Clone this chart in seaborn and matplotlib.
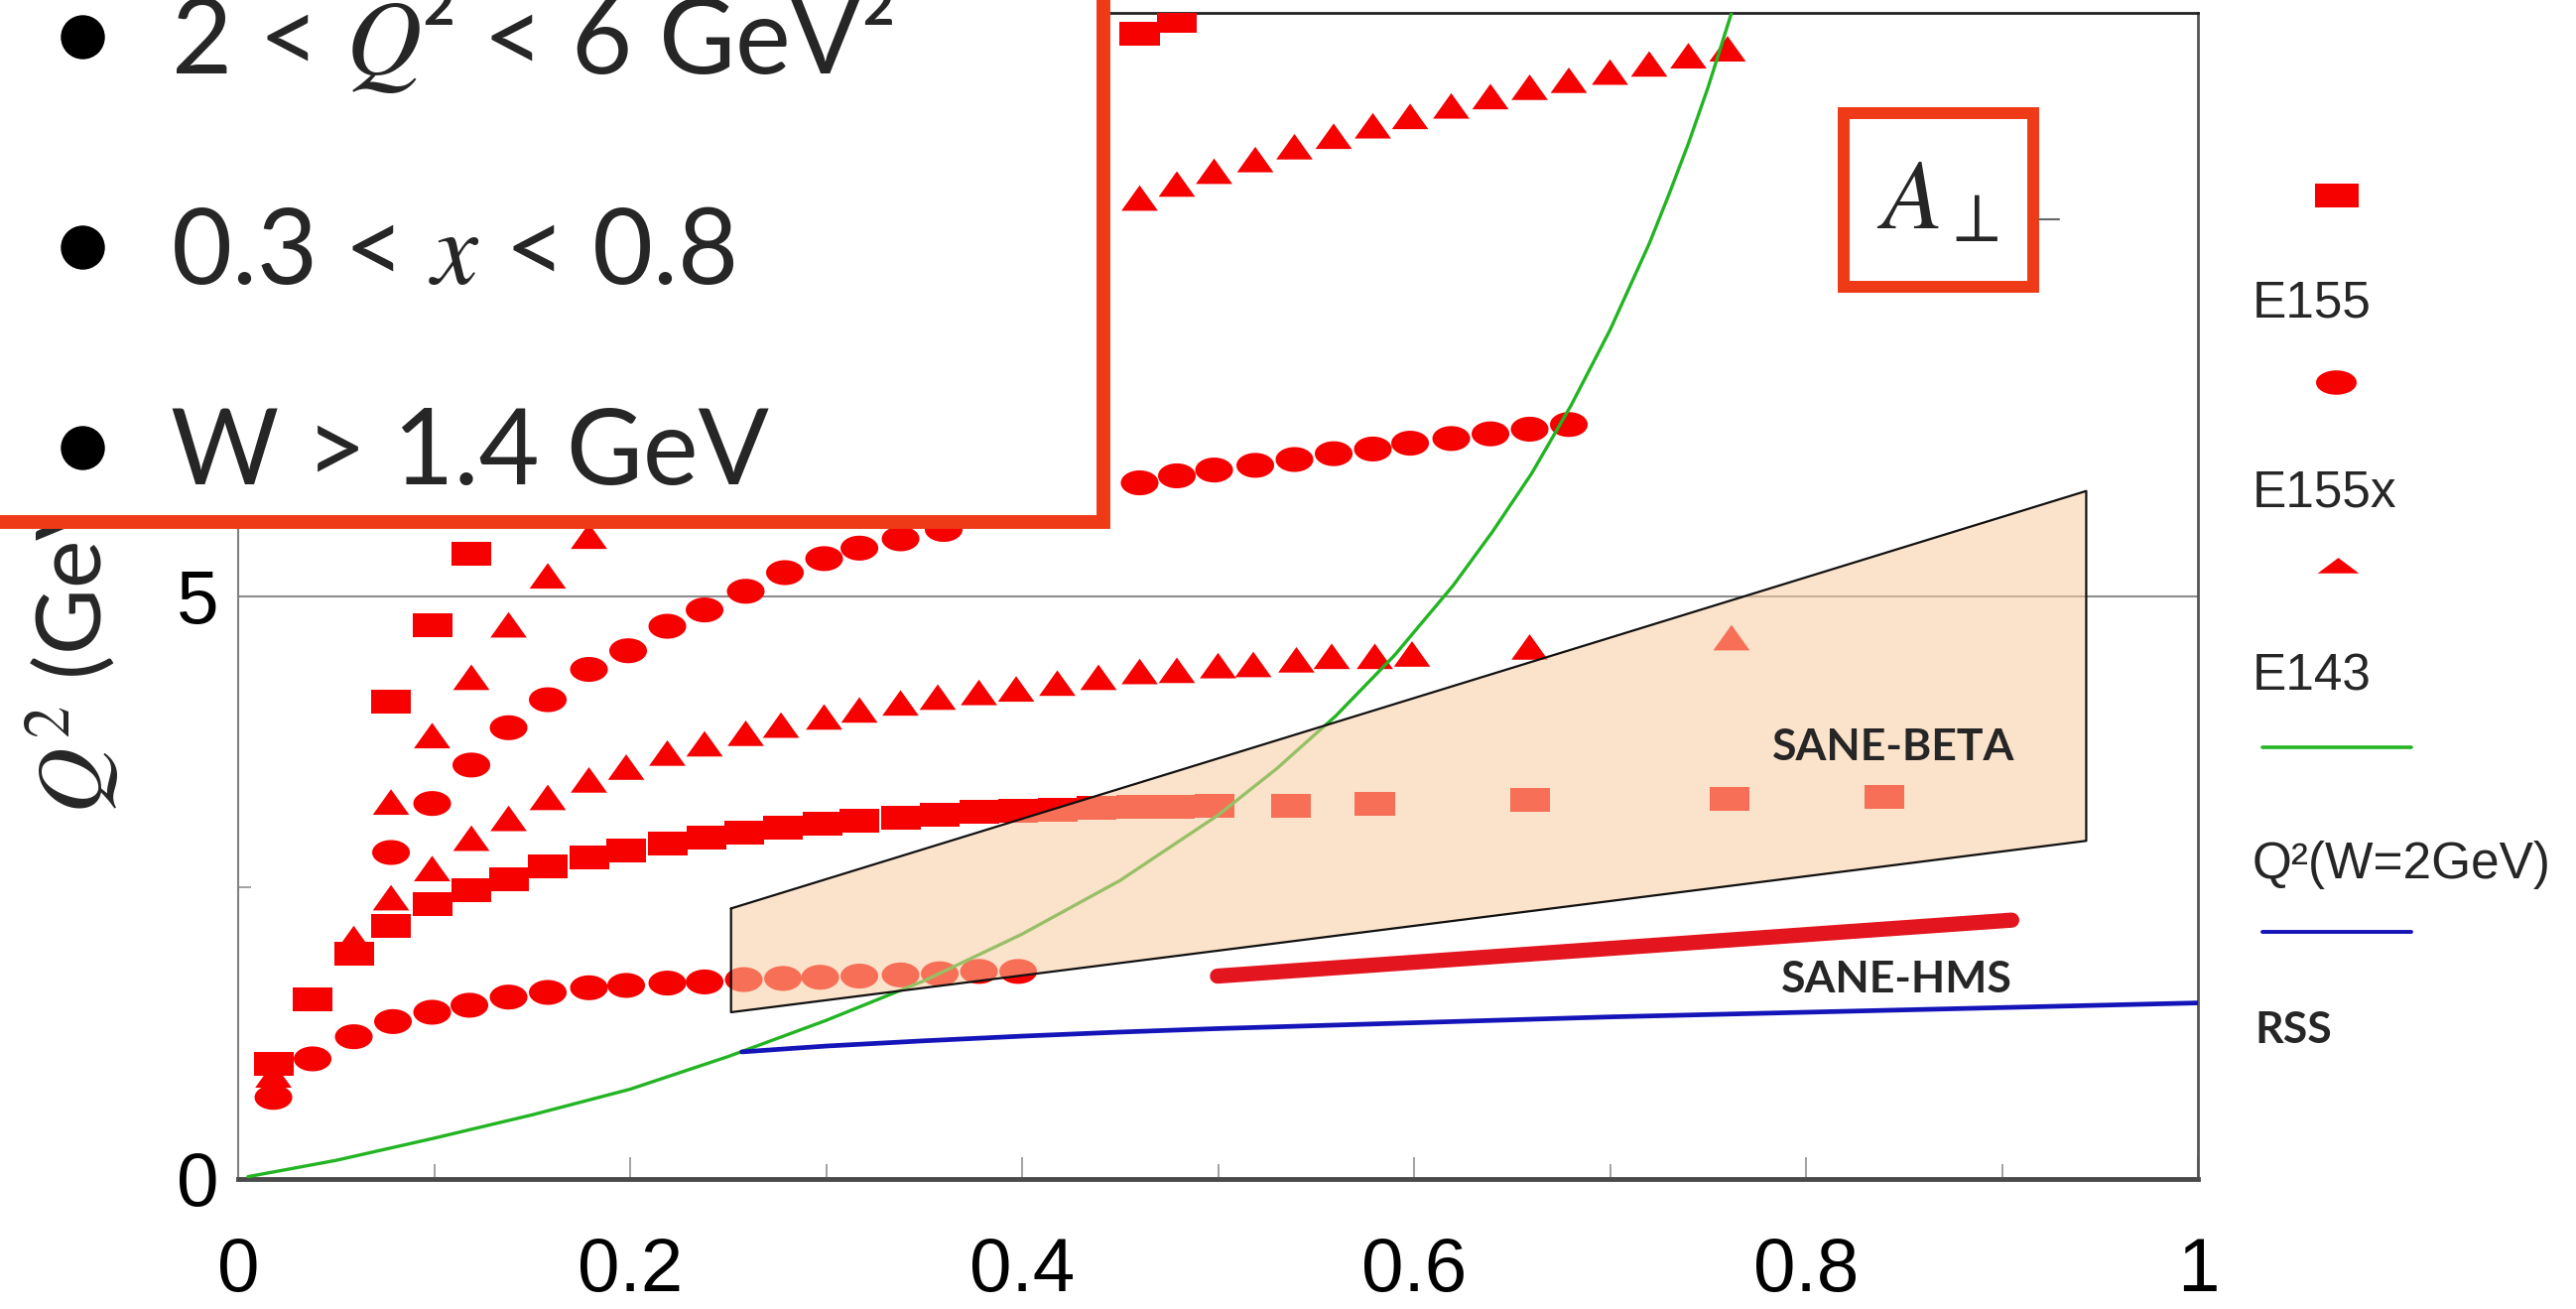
import numpy as np
import matplotlib
matplotlib.use("Agg")
import matplotlib.pyplot as plt
from matplotlib.markers import MarkerStyle
from matplotlib.path import Path
from matplotlib.patches import Rectangle
import seaborn as sns

# ---------------- data ----------------
# E155 (squares)
e155_a_x = [0.018, 0.038, 0.059, 0.078, 0.099, 0.119, 0.138, 0.158, 0.179, 0.198,
            0.219, 0.239, 0.258, 0.278, 0.298, 0.317, 0.338, 0.358, 0.378, 0.398,
            0.418, 0.438, 0.458, 0.478, 0.498, 0.537, 0.580, 0.659, 0.761, 0.840]
e155_a_y = [0.99, 1.54, 1.93, 2.17, 2.36, 2.48, 2.57, 2.68, 2.76, 2.82,
            2.88, 2.93, 2.97, 3.01, 3.05, 3.07, 3.10, 3.12, 3.15, 3.16,
            3.17, 3.18, 3.19, 3.19, 3.20, 3.20, 3.22, 3.25, 3.26, 3.28]
e155_b_x = [0.078, 0.099, 0.119, 0.460, 0.479]
e155_b_y = [4.09, 4.75, 5.36, 9.82, 9.93]

# E155x (circles)
e155x_a_x = [0.018, 0.038, 0.059, 0.079, 0.099, 0.118, 0.138, 0.158, 0.179, 0.198,
             0.219, 0.238, 0.258, 0.278, 0.297, 0.317, 0.338, 0.358, 0.378, 0.398]
e155x_a_y = [0.70, 1.03, 1.22, 1.35, 1.43, 1.49, 1.56, 1.60, 1.64, 1.66,
             1.68, 1.69, 1.71, 1.72, 1.73, 1.74, 1.75, 1.76, 1.78, 1.78]
e155x_b_x = [0.078, 0.099, 0.119, 0.138, 0.158, 0.179, 0.199, 0.219, 0.238, 0.259,
             0.279, 0.299, 0.317, 0.338, 0.360,
             0.460, 0.479, 0.498, 0.519, 0.539, 0.559, 0.579, 0.598, 0.619, 0.639,
             0.659, 0.679]
e155x_b_y = [2.80, 3.22, 3.55, 3.87, 4.11, 4.37, 4.53, 4.74, 4.88, 5.04,
             5.20, 5.32, 5.41, 5.49, 5.57,
             5.97, 6.03, 6.08, 6.12, 6.17, 6.22, 6.26, 6.31, 6.35, 6.39,
             6.43, 6.47]

# E143 (triangles)
e143_a_x = [0.018, 0.059, 0.078, 0.099, 0.119, 0.138, 0.158, 0.179, 0.198, 0.219,
            0.238, 0.259, 0.277, 0.299, 0.317, 0.338, 0.357, 0.378, 0.397, 0.418,
            0.439, 0.460, 0.479, 0.500, 0.518, 0.540, 0.558, 0.580, 0.599, 0.659,
            0.762]
e143_a_y = [0.88, 2.05, 2.40, 2.65, 2.91, 3.08, 3.26, 3.41, 3.52, 3.64,
            3.72, 3.81, 3.88, 3.95, 4.01, 4.07, 4.12, 4.16, 4.19, 4.24,
            4.29, 4.34, 4.35, 4.39, 4.40, 4.44, 4.47, 4.47, 4.49, 4.55,
            4.63]
e143_b_x = [0.078, 0.099, 0.119, 0.138, 0.158, 0.179,
            0.460, 0.479, 0.498, 0.519, 0.539, 0.559, 0.579, 0.598, 0.619, 0.639,
            0.659, 0.679, 0.700, 0.720, 0.740, 0.760]
e143_b_y = [3.22, 3.79, 4.29, 4.74, 5.16, 5.50,
            8.40, 8.52, 8.63, 8.73, 8.84, 8.93, 9.02, 9.10, 9.19, 9.27,
            9.35, 9.41, 9.48, 9.55, 9.62, 9.68]

# Q^2 at W = 2 GeV
w2_x = [0.005, 0.05, 0.10, 0.15, 0.20, 0.25, 0.30, 0.35, 0.40, 0.45, 0.50,
        0.53, 0.56, 0.59, 0.62, 0.64, 0.66, 0.68, 0.70, 0.71, 0.72, 0.73,
        0.74, 0.75, 0.762]
w2_y = [0.02, 0.16, 0.35, 0.55, 0.77, 1.05, 1.36, 1.70, 2.10, 2.56, 3.12,
        3.52, 3.97, 4.49, 5.09, 5.55, 6.05, 6.63, 7.28, 7.65, 8.02, 8.44,
        8.88, 9.36, 10.0]

# RSS
rss_x = [0.257, 0.30, 0.35, 0.40, 0.45, 0.50, 0.60, 0.70, 0.80, 0.90, 1.00]
rss_y = [1.09, 1.14, 1.185, 1.225, 1.26, 1.29, 1.34, 1.39, 1.43, 1.47, 1.51]

# SANE-BETA acceptance band
beta_x = [0.2515, 0.943]
beta_lo = [1.43, 2.90]
beta_hi = [2.32, 5.90]

# SANE-HMS
hms_x = [0.4997, 0.905]
hms_y = [1.74, 2.22]

x_ticks = [0, 0.2, 0.4, 0.6, 0.8, 1.0]
x_tick_labels = ["0", "0.2", "0.4", "0.6", "0.8", "1"]
y_ticks = [0, 5, 10]
y_tick_labels = ["0", "5", ""]

legend_labels = ["E155", "E155x", "E143", "Q²(W=2GeV)", "RSS"]
bullets = ["2 < $Q$² < 6 GeV²", "0.3 < $x$ < 0.8", "W > 1.4 GeV"]

# ---------------- style ----------------
RED = "#F60000"
GREEN = "#22B422"
BLUE = "#1414B8"
HMS_RED = "#E3151F"
BOX_RED = "#EF3A17"
BAND = "#F9CB9F"

sns.set_theme(style="white")
plt.rcParams["font.family"] = ["Liberation Sans", "DejaVu Sans"]
plt.rcParams["mathtext.fontset"] = "stix"

W, H = 2596, 1319
fig = plt.figure(figsize=(W / 100, H / 100), dpi=100)
fig.patch.set_facecolor("white")
ax = fig.add_axes([240 / W, 1 - 1188 / H, 1975 / W, 1175 / H])


def shape(verts):
    v = np.asarray(verts, float)
    v = np.vstack([v, v[:1]])
    return MarkerStyle(Path(v, closed=True))


t = np.linspace(0, 2 * np.pi, 61)[:-1]
m_square = shape([(-1, -0.6), (1, -0.6), (1, 0.6), (-1, 0.6)])
m_circle = shape(np.column_stack([np.cos(t), 0.66 * np.sin(t)]))
m_tri = shape([(-1, -0.62), (1, -0.62), (0, 0.78)])

ax.axhline(5, color="#8c8c8c", lw=1.5, zorder=1)

sq_kw = dict(marker=m_square, s=830, color=RED, edgecolor="none", linewidth=0, ax=ax, zorder=3)
ci_kw = dict(marker=m_circle, s=750, color=RED, edgecolor="none", linewidth=0, ax=ax, zorder=3)
tr_kw = dict(marker=m_tri, s=700, color=RED, edgecolor="none", linewidth=0, ax=ax, zorder=3)

sns.scatterplot(x=e155_a_x, y=e155_a_y, **sq_kw)
sns.scatterplot(x=e155_b_x, y=e155_b_y, **sq_kw)
sns.scatterplot(x=e155x_a_x, y=e155x_a_y, **ci_kw)
sns.scatterplot(x=e155x_b_x, y=e155x_b_y, **ci_kw)
sns.scatterplot(x=e143_a_x, y=e143_a_y, **tr_kw)
sns.scatterplot(x=e143_b_x, y=e143_b_y, **tr_kw)

sns.lineplot(x=w2_x, y=w2_y, color=GREEN, linewidth=2.4, ax=ax, zorder=3.5, estimator=None)
sns.lineplot(x=rss_x, y=rss_y, color=BLUE, linewidth=3.4, ax=ax, zorder=3.5, estimator=None)

# SANE-BETA band: translucent fill over the data, then its outline
ax.fill_between(beta_x, beta_lo, beta_hi, color=BAND, alpha=0.55, lw=0, zorder=4)
out_x = [beta_x[0], beta_x[1], beta_x[1], beta_x[0], beta_x[0]]
out_y = [beta_hi[0], beta_hi[1], beta_lo[1], beta_lo[0], beta_hi[0]]
sns.lineplot(x=out_x, y=out_y, sort=False, estimator=None, color="#111111",
             linewidth=1.6, ax=ax, zorder=5)

sns.lineplot(x=hms_x, y=hms_y, color=HMS_RED, linewidth=11, solid_capstyle="round",
             ax=ax, zorder=5, estimator=None)

ax.text(0.8445, 3.7, "SANE-BETA", family=["Lato", "DejaVu Sans"], weight="bold",
        fontsize=32, ha="center", va="center", zorder=6)
ax.text(0.8465, 1.71, "SANE-HMS", family=["Lato", "DejaVu Sans"], weight="bold",
        fontsize=32, ha="center", va="center", zorder=6)

ax.set_xlim(0, 1)
ax.set_ylim(0, 10)
ax.set_xlabel("")
ax.set_ylabel("")
ax.set_xticks(x_ticks, x_tick_labels)
ax.set_xticks([0.1, 0.3, 0.5, 0.7, 0.9], minor=True)
ax.set_yticks(y_ticks, y_tick_labels)
ax.set_yticks([2.5, 7.5], minor=True)
ax.tick_params(axis="x", which="major", direction="in", length=16, width=1.3,
               color="#9a9a9a", labelsize=55, pad=42, bottom=True)
ax.tick_params(axis="x", which="minor", direction="in", length=11, width=1.3,
               color="#9a9a9a", bottom=True)
ax.tick_params(axis="y", which="major", direction="in", length=10, width=1.3,
               color="#9a9a9a", labelsize=55, pad=14, left=True)
ax.tick_params(axis="y", which="minor", direction="in", length=9, width=1.3,
               color="#9a9a9a", left=True)
for lab in ax.get_xticklabels() + ax.get_yticklabels():
    lab.set_color("black")

ax.spines["left"].set_color("#808080")
ax.spines["left"].set_linewidth(1.5)
ax.spines["bottom"].set_color("#4a4a4a")
ax.spines["bottom"].set_linewidth(3.5)
ax.spines["top"].set_color("#222222")
ax.spines["top"].set_linewidth(2.0)
ax.spines["right"].set_color("#555555")
ax.spines["right"].set_linewidth(2.0)

# axis title on the left (partly under the cut box)
ax.text(74 / W, 1 - 820 / H, "$Q^2$ (GeV²)", transform=fig.transFigure, rotation=90,
        ha="center", va="bottom", fontsize=66, family=["Lato", "DejaVu Sans"],
        clip_on=False)

# ---------------- overlay: boxes and legend ----------------
ov = fig.add_axes([0, 0, 1, 1], zorder=10)
ov.set_xlim(0, W)
ov.set_ylim(H, 0)
ov.axis("off")

ov.add_patch(Rectangle((-40, -40), 1112 + 40, 526 + 40, facecolor="white",
                       edgecolor=BOX_RED, linewidth=10))
for txt, base in zip(bullets, [74, 286, 488]):
    ov.plot([83], [base - 37], marker="o", markersize=32, color="black", mec="none")
    ov.text(172, base, txt, family=["Lato", "DejaVu Sans"], fontsize=76,
            ha="left", va="baseline")

ov.add_patch(Rectangle((1858, 114), 191, 175, facecolor="white",
                       edgecolor=BOX_RED, linewidth=8.6))
ov.text(1953, 205, r"$A_{\perp}$", fontsize=72, ha="center", va="center")
ov.plot([2055, 2075], [221, 221], color="#666666", lw=1.5)

leg_square = shape([(-1, -0.56), (1, -0.56), (1, 0.56), (-1, 0.56)])
leg_circle = shape(np.column_stack([np.cos(t), 0.6 * np.sin(t)]))
leg_tri = shape([(-1, -0.3), (1, -0.3), (0, 0.45)])
ov.scatter([2355], [197], marker=leg_square, s=960, color=RED, lw=0)
ov.scatter([2354], [385], marker=leg_circle, s=870, color=RED, lw=0)
ov.scatter([2356], [571], marker=leg_tri, s=900, color=RED, lw=0)
ov.plot([2280, 2430], [753, 753], color=GREEN, lw=2.6)
ov.plot([2280, 2430], [939, 939], color=BLUE, lw=2.8)

for lab, yy in zip(legend_labels[:4], [306, 497, 682, 872]):
    ov.text(2270, yy, lab, fontsize=37, ha="left", va="center")
ov.text(2272, 1038, legend_labels[4], fontsize=32, ha="left", va="center",
        weight="bold", family=["Lato", "DejaVu Sans"])

fig.savefig("out.png", dpi=100)
